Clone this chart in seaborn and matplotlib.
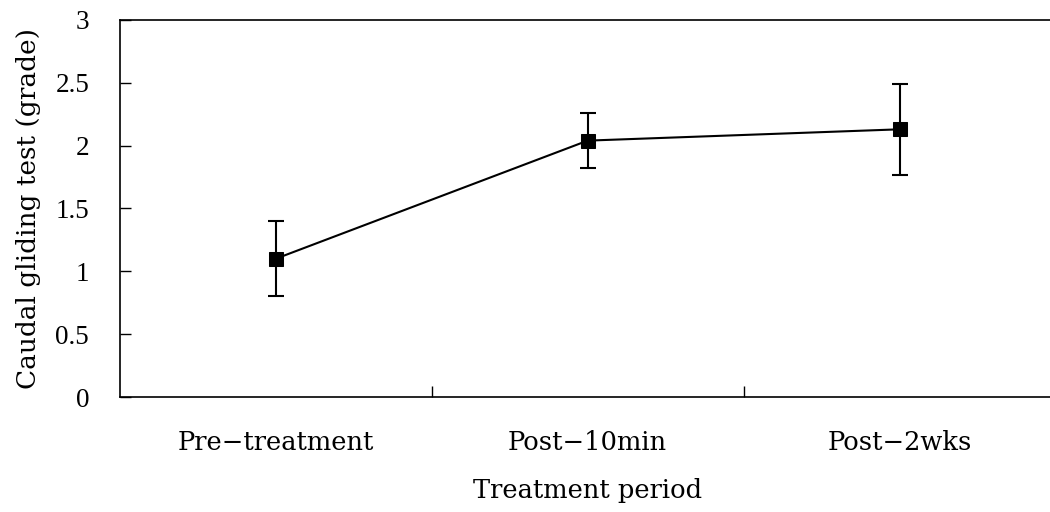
import matplotlib
matplotlib.use("Agg")
import matplotlib.pyplot as plt
import seaborn as sns
import pandas as pd
from matplotlib.ticker import FixedLocator, NullFormatter

categories = ["Pre\u2212treatment", "Post\u221210min", "Post\u22122wks"]
means = [1.10, 2.04, 2.13]
errors = [0.30, 0.22, 0.36]
y_ticks = [0, 0.5, 1, 1.5, 2, 2.5, 3]
y_tick_labels = ["0", "0.5", "1", "1.5", "2", "2.5", "3"]

sns.set_theme(style="white")
plt.rcParams["font.family"] = ["DejaVu Serif"]
plt.rcParams["text.color"] = "black"
plt.rcParams["axes.labelcolor"] = "black"
plt.rcParams["xtick.color"] = "black"
plt.rcParams["ytick.color"] = "black"

fig = plt.figure(figsize=(10.5, 5.12), dpi=100)
ax = fig.add_axes([0.114, 0.2246, 0.8914, 0.7364])

pos = list(range(len(categories)))
df = pd.DataFrame({"pos": pos, "mean": means})
sns.lineplot(data=df, x="pos", y="mean", ax=ax, color="black", linewidth=1.5,
             marker="s", markersize=10, markeredgecolor="black", markerfacecolor="black")
ax.errorbar(pos, means, yerr=errors, fmt="none", ecolor="black", elinewidth=1.5,
            capsize=6, capthick=1.5)

ax.set_xlim(-0.5, 2.5)
ax.set_ylim(0, 3)
ax.set_yticks(y_ticks)
ax.set_yticklabels(y_tick_labels)
ax.set_xticks(pos)
ax.set_xticklabels(categories)
ax.tick_params(axis="x", which="major", length=0, pad=24, labelsize=18.5, labelcolor="black")
ax.xaxis.set_minor_locator(FixedLocator([0.5, 1.5]))
ax.xaxis.set_minor_formatter(NullFormatter())
ax.tick_params(axis="x", which="minor", direction="in", length=8, width=1, color="black", bottom=True)
ax.tick_params(axis="y", direction="in", length=8, width=1, color="black", left=True, pad=22,
               labelsize=19.5, labelcolor="black")
for lbl in ax.get_yticklabels():
    lbl.set_fontfamily(["Liberation Serif", "DejaVu Serif"])

for s in ax.spines.values():
    s.set_visible(True)
    s.set_color("black")
    s.set_linewidth(1.2)

ax.set_xlabel("Treatment period", fontsize=18.5, labelpad=16, color="black")
ax.set_ylabel("Caudal gliding test (grade)", fontsize=19, labelpad=10, color="black")
ax.grid(False)

fig.savefig("out.png", dpi=100)
